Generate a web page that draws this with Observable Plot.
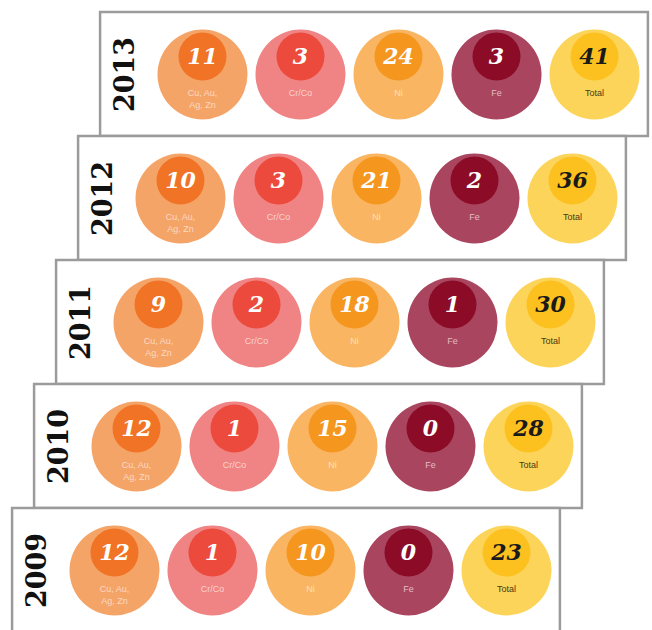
<!DOCTYPE html>
<html>
<head>
<meta charset="utf-8">
<script src="https://cdn.jsdelivr.net/npm/d3@7"></script>
<script src="https://cdn.jsdelivr.net/npm/@observablehq/plot@0.6"></script>
<style>
  html, body { margin: 0; padding: 0; background: #ffffff; }
  #chart svg { display: block; }
</style>
</head>
<body>
<div id="chart"></div>
<script>
// ---- Data ----
const years = [2013, 2012, 2011, 2010, 2009];
const categories = ["Cu, Au,\nAg, Zn", "Cr/Co", "Ni", "Fe", "Total"];
const cuAuAgZn = [11, 10, 9, 12, 12];
const crCo = [3, 3, 2, 1, 1];
const ni = [24, 21, 18, 15, 10];
const fe = [3, 2, 1, 0, 0];
const total = [41, 36, 30, 28, 23];

// ---- Styles ----
const outerColors = ["#F5A468", "#F08383", "#F9B562", "#A9455F", "#FDD45A"];
const innerColors = ["#F07326", "#EB4A3C", "#F5961F", "#8C0C28", "#FCC11E"];
const numberColors = ["#ffffff", "#ffffff", "#ffffff", "#ffffff", "#1a1a1a"];
const labelColors = ["#fbd9c2", "#fbd2d0", "#fde0bd", "#e3bcc6", "#4a3a10"];

const seriesValues = [cuAuAgZn, crCo, ni, fe, total];
const ROW_SHIFT = 22 / 98; // staircase shift of each row, in column units

const rows = years.map((year, r) => ({
  year,
  r,
  x0: -1.04 - ROW_SHIFT * r,
  x1: 4.55 - ROW_SHIFT * r,
  y0: r - 0.5,
  y1: r + 0.5
}));

const cells = [];
years.forEach((year, r) => {
  categories.forEach((label, c) => {
    cells.push({
      year, r, c,
      x: c - ROW_SHIFT * r,
      y: r,
      value: seriesValues[c][r],
      label,
      outer: outerColors[c],
      inner: innerColors[c],
      numColor: numberColors[c],
      labColor: labelColors[c]
    });
  });
});

const chart = Plot.plot({
  width: 652,
  height: 630,
  margin: 0,
  x: { type: "linear", domain: [-202 / 98, 450 / 98], range: [0, 652], axis: null },
  y: { type: "linear", domain: [-74 / 124, 556 / 124], range: [0, 630], axis: null },
  style: { background: "#ffffff", overflow: "visible" },
  marks: [
    Plot.rect(rows, {
      x1: "x0", x2: "x1", y1: "y0", y2: "y1",
      fill: "#ffffff", stroke: "#9c9a9a", strokeWidth: 2.5
    }),
    Plot.text(rows, {
      x: "x0", y: "r", text: d => String(d.year),
      dx: 25, rotate: -90,
      fontFamily: "DejaVu Serif", fontWeight: "bold", fontSize: 27,
      fill: "#111111", textAnchor: "middle", lineAnchor: "middle"
    }),
    Plot.dot(cells, {
      x: "x", y: "y", r: 45, fill: d => d.outer, stroke: "none"
    }),
    Plot.dot(cells, {
      x: "x", y: "y", r: 24, dy: -18, fill: d => d.inner, stroke: "none"
    }),
    Plot.text(cells, {
      x: "x", y: "y", dy: -18, text: d => String(d.value),
      fontFamily: "DejaVu Serif", fontWeight: "bold", fontStyle: "italic", fontSize: 22,
      fill: d => d.numColor, lineAnchor: "middle"
    }),
    Plot.text(cells, {
      x: "x", y: "y", dy: 13, text: "label",
      fontFamily: "Liberation Sans", fontSize: 9, lineHeight: 1.35,
      fill: d => d.labColor, lineAnchor: "top"
    })
  ]
});

document.getElementById("chart").append(chart);
</script>
</body>
</html>
